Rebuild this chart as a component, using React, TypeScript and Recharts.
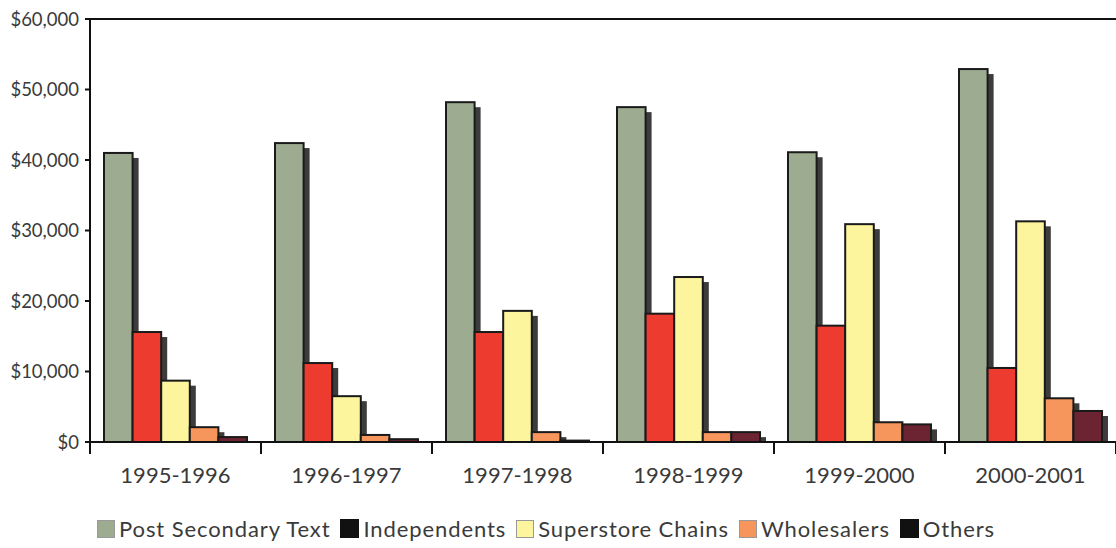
import React from 'react';
import { BarChart, Bar, XAxis, YAxis, Legend, ReferenceLine } from 'recharts';

const years = ['1995-1996', '1996-1997', '1997-1998', '1998-1999', '1999-2000', '2000-2001'];
const postSecondary = [41000, 42400, 48200, 47500, 41100, 52900];
const independents = [15600, 11200, 15600, 18200, 16500, 10500];
const superstores = [8700, 6500, 18600, 23400, 30900, 31300];
const wholesalers = [2100, 1000, 1400, 1400, 2800, 6200];
const others = [700, 400, 200, 1400, 2500, 4400];
const yTicks = [0, 10000, 20000, 30000, 40000, 50000, 60000];

const series = [
  { key: 'post', name: 'Post Secondary Text', fill: '#9dac91', swatch: '#9dac91' },
  { key: 'ind', name: 'Independents', fill: '#ee3b2f', swatch: '#111111' },
  { key: 'sup', name: 'Superstore Chains', fill: '#fdf59e', swatch: '#fdf59e' },
  { key: 'whl', name: 'Wholesalers', fill: '#f7965c', swatch: '#f7965c' },
  { key: 'oth', name: 'Others', fill: '#6c2432', swatch: '#111111' },
];

const data = years.map((year, i) => ({
  year,
  post: postSecondary[i],
  ind: independents[i],
  sup: superstores[i],
  whl: wholesalers[i],
  oth: others[i],
}));

const W = 1116;
const H = 548;
const LEFT = 90;
const RIGHT = 0;
const band = (W - LEFT - RIGHT) / years.length;
const font = 'Lato, "Open Sans", sans-serif';

const ShadowBar = (props: any) => {
  const { x, y, width, height, fill } = props;
  if (!height || height <= 0) return null;
  const sh = Math.max(height - 5, 0);
  return (
    <g>
      {sh > 0 && <rect x={x + 6} y={y + 5} width={width} height={sh} fill="#3c3c3c" />}
      <rect x={x} y={y} width={width} height={height} fill={fill} stroke="#1a1a1a" strokeWidth={2} />
    </g>
  );
};

const XTick = (props: any) => {
  const { x, y, payload, index } = props;
  const left = x - band / 2;
  return (
    <g>
      <line x1={left} y1={y - 8} x2={left} y2={y + 4} stroke="#111" strokeWidth={2} />
      {index === years.length - 1 && (
        <line x1={left + band} y1={y - 8} x2={left + band} y2={y + 4} stroke="#111" strokeWidth={2} />
      )}
      <text x={x} y={y + 33} textAnchor="middle" fontSize={22} fill="#3a3a3a" fontFamily={font}>
        {payload.value}
      </text>
    </g>
  );
};

const LegendContent = () => (
  <div
    style={{
      display: 'flex',
      alignItems: 'center',
      fontFamily: font,
      fontSize: 22,
      letterSpacing: 0.9,
      color: '#3a3a3a',
      whiteSpace: 'nowrap',
    }}
  >
    {series.map((s) => (
      <div key={s.key} style={{ display: 'flex', alignItems: 'center', marginRight: 10 }}>
        <span
          style={{
            display: 'inline-block',
            width: s.swatch === '#111111' ? 19 : 16,
            height: s.swatch === '#111111' ? 19 : 16,
            background: s.swatch,
            border: s.swatch === '#111111' ? 'none' : '1px solid #999',
            marginRight: 4,
          }}
        />
        <span>{s.name}</span>
      </div>
    ))}
  </div>
);

export default function App() {
  return (
    <div style={{ position: 'absolute', left: 0, top: 0, width: W, height: H, background: '#fff' }}>
      <BarChart
        width={W}
        height={H}
        data={data}
        margin={{ top: 19, right: RIGHT, bottom: 0, left: 0 }}
        barGap={0}
        barSize={28.6}
      >
        <XAxis
          dataKey="year"
          axisLine={{ stroke: '#111', strokeWidth: 2 }}
          tickLine={false}
          tick={<XTick />}
          height={75}
          interval={0}
        />
        <YAxis
          width={LEFT}
          domain={[0, 60000]}
          ticks={yTicks}
          axisLine={{ stroke: '#111', strokeWidth: 2 }}
          tickLine={{ stroke: '#111', strokeWidth: 2 }}
          tickSize={5}
          tickMargin={6}
          tick={{ fontSize: 18.5, fill: '#3a3a3a', fontFamily: font }}
          tickFormatter={(v: number) => '$' + v.toLocaleString('en-US')}
        />
        <ReferenceLine y={60000} stroke="#111" strokeWidth={2} />
        {series.map((s) => (
          <Bar key={s.key} dataKey={s.key} name={s.name} fill={s.fill} shape={<ShadowBar />} isAnimationActive={false} />
        ))}
        <Legend
          content={<LegendContent />}
          wrapperStyle={{ position: 'absolute', left: 97, top: 515, width: 'auto', height: 31 }}
        />
      </BarChart>
    </div>
  );
}
